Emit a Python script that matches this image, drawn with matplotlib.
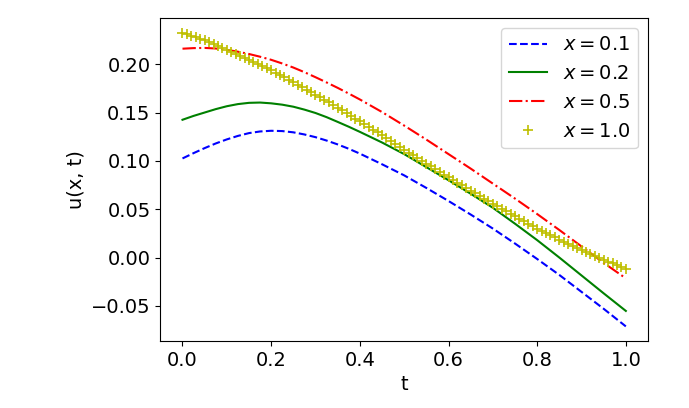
import matplotlib
matplotlib.use("Agg")
import matplotlib.pyplot as plt

plt.rcParams["font.size"] = 14

# time samples for the line series (finer near the humps)
t_line = [0.000, 0.025, 0.050, 0.075, 0.100, 0.125, 0.150, 0.175, 0.200,
          0.225, 0.250, 0.275, 0.300, 0.325, 0.350, 0.375, 0.400,
          0.45, 0.50, 0.55, 0.60, 0.65, 0.70, 0.75, 0.80, 0.85, 0.90,
          0.95, 1.00]

u_x01 = [0.1025, 0.1080, 0.1132, 0.1180, 0.1222, 0.1258, 0.1287, 0.1304,
         0.1311, 0.1308, 0.1295, 0.1273, 0.1245, 0.1210, 0.1170, 0.1125,
         0.1075,
         0.0965, 0.0850, 0.0720, 0.0585, 0.0445, 0.0300, 0.0145, -0.0015,
         -0.0180, -0.0355, -0.0530, -0.0712]
u_x02 = [0.1425, 0.1465, 0.1500, 0.1535, 0.1565, 0.1587, 0.1600, 0.1603,
         0.1595, 0.1581, 0.1560, 0.1530, 0.1495, 0.1452, 0.1403, 0.1353,
         0.1300,
         0.1190, 0.1070, 0.0935, 0.0800, 0.0660, 0.0515, 0.0350, 0.0180,
         0.0000, -0.0185, -0.0370, -0.0552]
u_x05 = [0.2160, 0.2166, 0.2168, 0.2162, 0.2148, 0.2129, 0.2105, 0.2077,
         0.2045, 0.2007, 0.1965, 0.1917, 0.1865, 0.1811, 0.1755, 0.1696,
         0.1635,
         0.1505, 0.1365, 0.1220, 0.1070, 0.0920, 0.0765, 0.0610, 0.0450,
         0.0285, 0.0115, -0.0055, -0.0215]

# x = 1.0 is drawn with markers only, one per 0.01 in t
t_mark = [i / 100 for i in range(101)]
u_x10 = [0.2326, 0.2310, 0.2294, 0.2277, 0.2261,
         0.2245, 0.2226, 0.2207, 0.2188, 0.2169,
         0.2150, 0.2129, 0.2108, 0.2087, 0.2066,
         0.2045, 0.2023, 0.2001, 0.1979, 0.1957,
         0.1935, 0.1911, 0.1887, 0.1863, 0.1839,
         0.1815, 0.1789, 0.1763, 0.1737, 0.1711,
         0.1685, 0.1658, 0.1631, 0.1604, 0.1577,
         0.1550, 0.1522, 0.1494, 0.1466, 0.1438,
         0.1410, 0.1381, 0.1352, 0.1323, 0.1294,
         0.1265, 0.1235, 0.1205, 0.1175, 0.1145,
         0.1115, 0.1086, 0.1057, 0.1028, 0.0999,
         0.0970, 0.0942, 0.0914, 0.0886, 0.0858,
         0.0830, 0.0802, 0.0774, 0.0746, 0.0718,
         0.0690, 0.0663, 0.0636, 0.0609, 0.0582,
         0.0555, 0.0529, 0.0503, 0.0477, 0.0451,
         0.0425, 0.0400, 0.0375, 0.0350, 0.0325,
         0.0300, 0.0277, 0.0254, 0.0231, 0.0208,
         0.0185, 0.0164, 0.0143, 0.0122, 0.0101,
         0.0080, 0.0059, 0.0038, 0.0017, -0.0004,
         -0.0025, -0.0043, -0.0061, -0.0079, -0.0097, -0.0115]

fig = plt.figure(figsize=(6.89, 4.08), dpi=100)
ax = fig.add_axes([0.2327, 0.164, 0.7078, 0.792])

ax.plot(t_line, u_x01, "b--", label=r"$x = 0.1$")
ax.plot(t_line, u_x02, "g-", label=r"$x = 0.2$")
ax.plot(t_line, u_x05, "r-.", label=r"$x = 0.5$")
ax.plot(t_mark, u_x10, "y+", markersize=6.5, markeredgewidth=1.2,
        label=r"$x = 1.0$")

ax.set_xlabel("t")
ax.set_ylabel("u(x, t)")
ax.legend(loc="upper right")

fig.savefig("out.png", dpi=100)
plt.close(fig)
